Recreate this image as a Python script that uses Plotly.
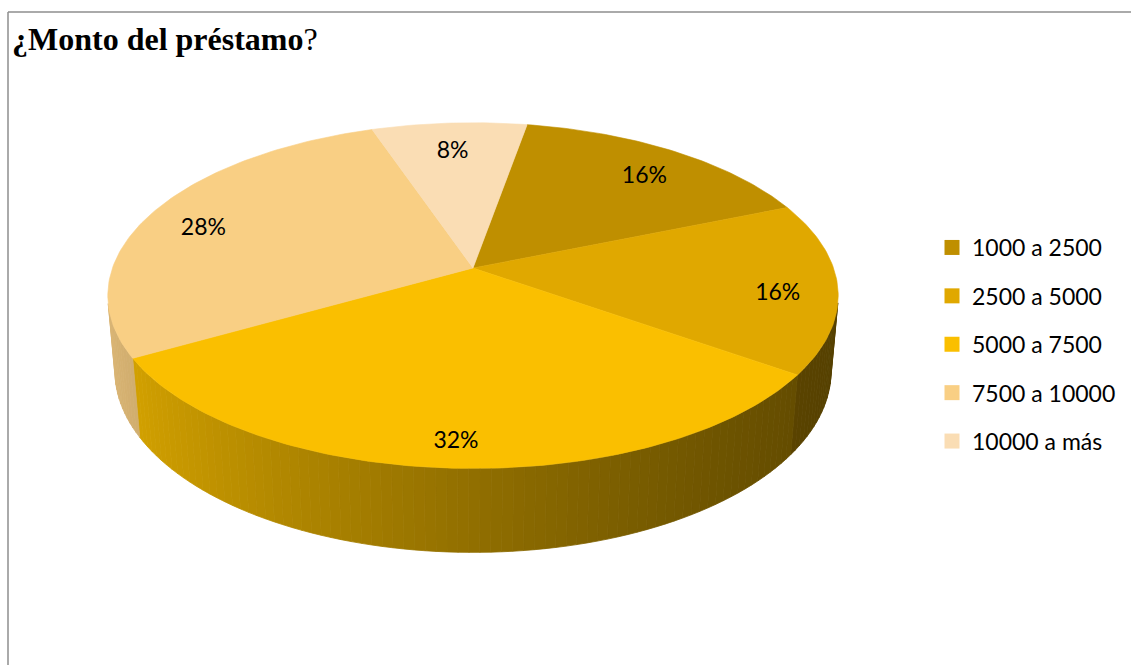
import numpy as np
import plotly.graph_objects as go

# Loan amount brackets and their share of responses (%)
categories = ["1000 a 2500", "2500 a 5000", "5000 a 7500", "7500 a 10000", "10000 a más"]
shares = [16, 16, 32, 28, 8]
colors = ["#BF8F00", "#E0A800", "#FABF00", "#F9CF84", "#FADDB4"]
title_text = "<b>¿Monto del préstamo</b>?"

# ---- 3D pie geometry (pixel canvas, perspective camera) ----
W, H = 1131, 665
CX, CY = 473, 268          # screen position of the pie centre on the top face
FOCAL = 2035.0
XSCALE = 0.985             # slight horizontal squeeze of the projected pie
DIST = 5.56
TILT = np.radians(27.4)
THICK = 0.234              # pie thickness, in units of the radius
FIRST_ANGLE = 10.0         # first slice starts this many degrees clockwise from the back
LABEL_R = 0.84
LABEL_Z = -0.03

S, C = np.sin(TILT), np.cos(TILT)


def project(phi_deg, r=1.0, z=0.0):
    phi = np.radians(phi_deg)
    u, v = r * np.sin(phi), r * np.cos(phi)
    w = DIST + v * C - z * S
    yv = v * S + z * C
    return CX + XSCALE * FOCAL * u / w, CY - FOCAL * yv / w


def hex_rgb(h):
    h = h.lstrip("#")
    return tuple(int(h[i:i + 2], 16) for i in (0, 2, 4))


def shade(hex_col, phi_deg):
    # side walls get darker toward the right-hand side
    f = 0.38 + 0.5 * ((1 - np.sin(np.radians(phi_deg))) / 2) ** 1.32
    r, g, b = hex_rgb(hex_col)
    return "rgb(%d,%d,%d)" % (round(r * f), round(g * f), round(b * f))


def signed_area(xs, ys):
    xs, ys = np.asarray(xs), np.asarray(ys)
    return 0.5 * np.sum(xs * np.roll(ys, -1) - np.roll(xs, -1) * ys)


total = float(sum(shares))
bounds = FIRST_ANGLE + 360.0 * np.concatenate([[0], np.cumsum(shares)]) / total

# orientation of a wall strip that faces the viewer (front of the pie)
fx0, fy0 = project(179); fx1, fy1 = project(181)
bx1, by1 = project(181, z=-THICK); bx0, by0 = project(179, z=-THICK)
FRONT_SIGN = np.sign(signed_area([fx0, fx1, bx1, bx0], [fy0, fy1, by1, by0]))

fig = go.Figure()

# side walls
for cat, col, a, b in zip(categories, colors, bounds[:-1], bounds[1:]):
    n = max(2, int(np.ceil((b - a) / 1.5)))
    edges = np.linspace(a, b, n + 1)
    for p0, p1 in zip(edges[:-1], edges[1:]):
        tx0, ty0 = project(p0)
        tx1, ty1 = project(p1)
        qx1, qy1 = project(p1, z=-THICK)
        qx0, qy0 = project(p0, z=-THICK)
        xs = [tx0, tx1, qx1, qx0]
        ys = [ty0, ty1, qy1, qy0]
        if np.sign(signed_area(xs, ys)) != FRONT_SIGN:
            continue
        c = shade(col, 0.5 * (p0 + p1))
        fig.add_trace(go.Scatter(
            x=xs + [tx0], y=ys + [ty0], mode="lines", fill="toself",
            fillcolor=c, line=dict(color=c, width=0.8),
            hoverinfo="skip", showlegend=False))

# top faces
for cat, col, a, b, s in zip(categories, colors, bounds[:-1], bounds[1:], shares):
    arc = np.linspace(a, b, max(3, int(np.ceil(b - a)) + 1))
    px, py = zip(*[project(p) for p in arc])
    xs = [CX] + list(px) + [CX]
    ys = [CY] + list(py) + [CY]
    fig.add_trace(go.Scatter(
        x=xs, y=ys, mode="lines", fill="toself", fillcolor=col,
        line=dict(color=col, width=0.6), name=cat,
        hovertemplate="%s: %d%%<extra></extra>" % (cat, s), showlegend=False))

# percentage labels
lx, ly, lt = [], [], []
for a, b, s in zip(bounds[:-1], bounds[1:], shares):
    x, y = project(0.5 * (a + b), r=LABEL_R, z=LABEL_Z)
    lx.append(x); ly.append(y)
    lt.append("%d%%" % round(100 * s / total))
fig.add_trace(go.Scatter(
    x=lx, y=ly, mode="text", text=lt,
    textfont=dict(family="Lato", size=23, color="#000000"),
    hoverinfo="skip", showlegend=False))

# legend entries
for cat, col in zip(categories, colors):
    fig.add_trace(go.Scatter(
        x=[None], y=[None], mode="markers", name=cat, legendgroup=cat,
        marker=dict(symbol="square", size=15, color=col)))

fig.update_layout(
    width=W, height=H,
    margin=dict(l=0, r=0, t=0, b=0),
    paper_bgcolor="white", plot_bgcolor="white",
    xaxis=dict(range=[0, W], visible=False, fixedrange=True),
    yaxis=dict(range=[H, 0], visible=False, fixedrange=True),
    showlegend=True,
    legend=dict(
        x=932 / W, y=1 - 226 / H, xanchor="left", yanchor="top",
        traceorder="grouped", tracegroupgap=15.5, itemwidth=30,
        font=dict(family="Lato", size=23, color="#000000"),
        bgcolor="rgba(0,0,0,0)"),
    annotations=[dict(
        x=10, y=39, xref="x", yref="y", xanchor="left", yanchor="middle",
        text=title_text, showarrow=False,
        font=dict(family="Liberation Serif", size=32, color="#000000"))],
    shapes=[
        dict(type="line", xref="x", yref="y", x0=8, y0=12, x1=W, y1=12,
             line=dict(color="#8E8E8E", width=1.5)),
        dict(type="line", xref="x", yref="y", x0=8, y0=12, x1=8, y1=H,
             line=dict(color="#8E8E8E", width=1.5)),
    ],
)

fig.write_html("out.html")
